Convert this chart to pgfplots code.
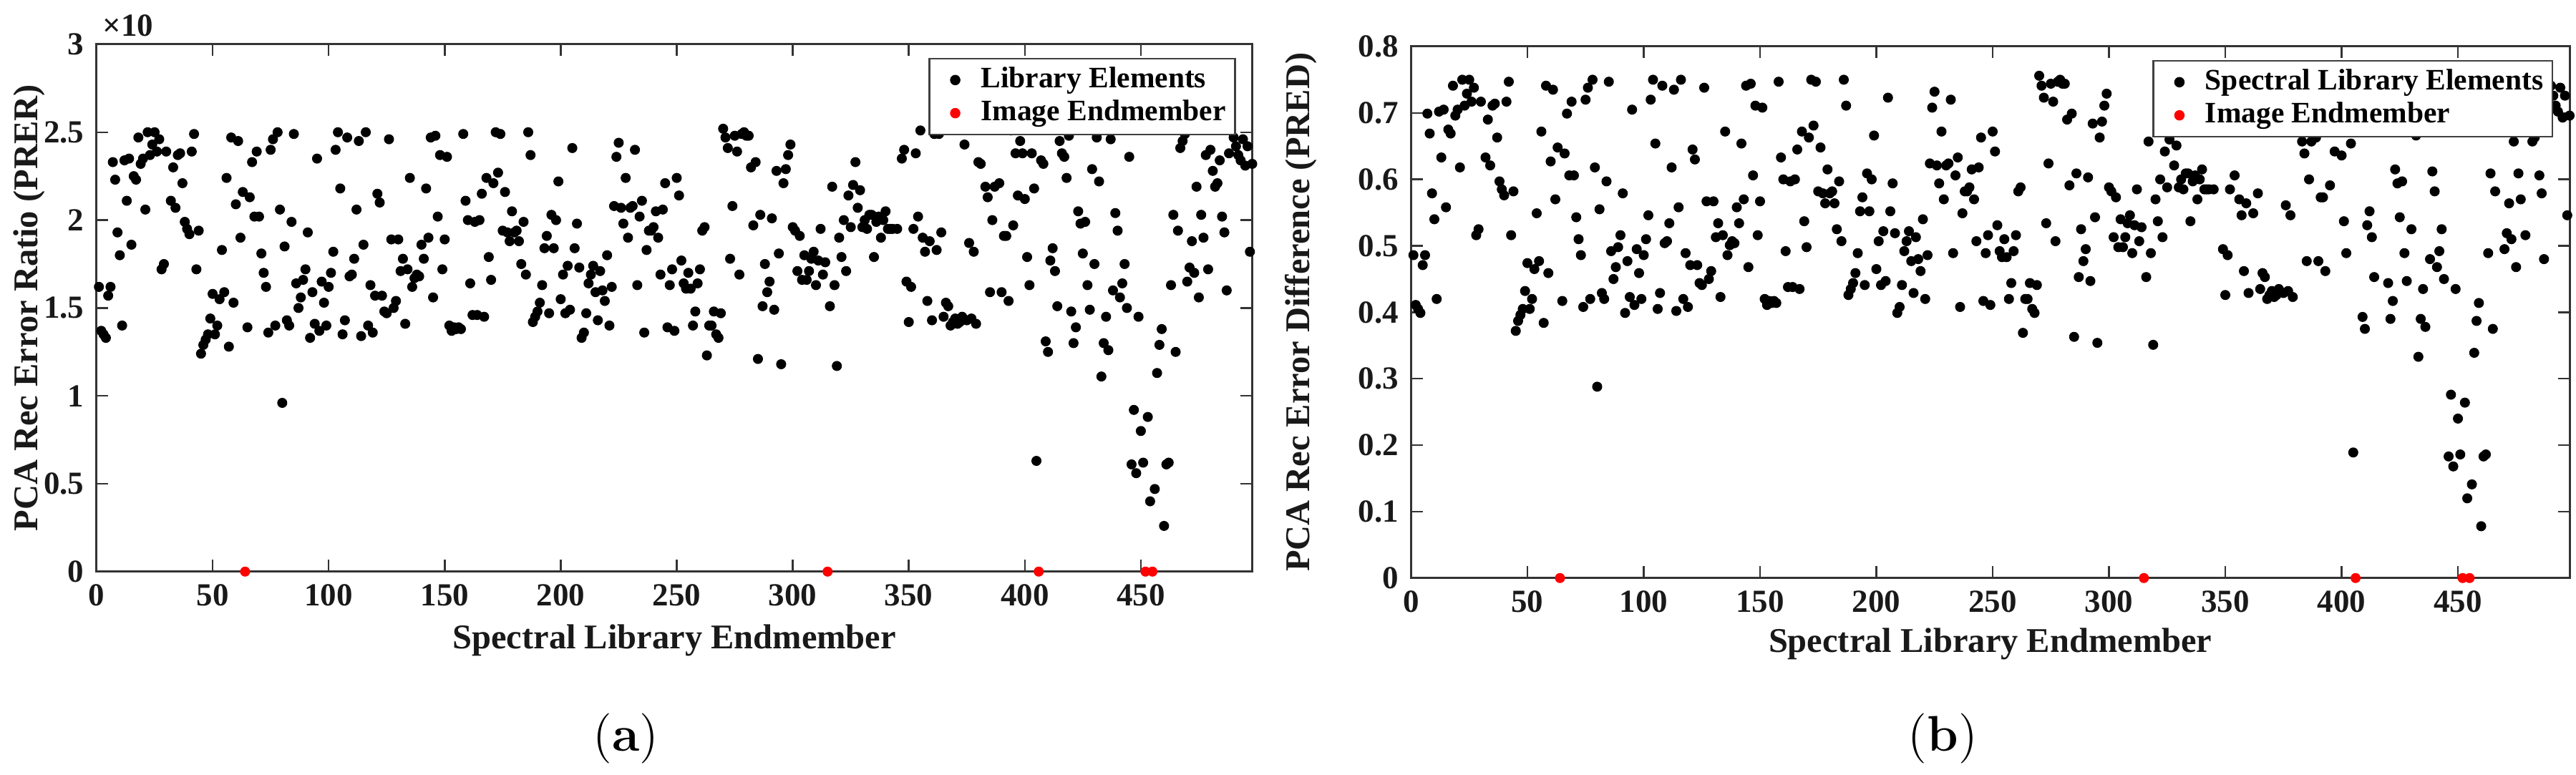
\documentclass[border=0pt]{standalone}
\usepackage{fontspec}
\setmainfont{Liberation Serif}
\newfontfamily\lmfont{Latin Modern Roman}
\usepackage{pgfplots}
\usepackage{pgfplotstable}
\pgfplotsset{compat=1.18}

\pgfplotstableread{
x a b
1 1.62 0.486
2 1.37 0.411
3 1.35 0.405
4 1.33 0.399
5 1.57 0.471
6 1.62 0.486
7 2.33 0.699
8 2.23 0.669
9 1.93 0.579
10 1.80 0.540
11 1.40 0.420
12 2.34 0.702
13 2.11 0.633
14 2.35 0.705
15 1.86 0.558
16 2.25 0.675
17 2.23 0.669
18 2.47 0.741
19 2.32 0.696
20 2.35 0.705
21 2.06 0.618
22 2.50 0.750
23 2.37 0.711
24 2.43 0.729
25 2.50 0.750
26 2.39 0.717
27 2.46 0.738
28 1.72 0.516
29 1.75 0.525
30 2.39 0.717
32 2.11 0.633
33 2.30 0.690
34 2.07 0.621
35 2.37 0.711
36 2.38 0.714
37 2.21 0.663
38 1.99 0.597
39 1.95 0.585
40 1.92 0.576
41 2.39 0.717
42 2.49 0.747
43 1.72 0.516
44 1.94 0.582
45 1.24 0.372
46 1.29 0.387
47 1.32 0.396
48 1.35 0.405
49 1.44 0.432
50 1.58 0.474
51 1.35 0.405
52 1.40 0.420
53 1.55 0.465
54 1.83 0.549
55 1.59 0.477
56 2.24 0.672
57 1.28 0.384
58 2.47 0.741
59 1.53 0.459
60 2.09 0.627
61 2.45 0.735
62 1.90 0.570
63 2.16 0.648
65 1.39 0.417
66 2.13 0.639
67 2.33 0.699
68 2.02 0.606
69 2.39 0.717
70 2.02 0.606
71 1.81 0.543
72 1.70 0.510
73 1.62 0.486
74 1.36 0.408
75 2.40 0.720
76 2.46 0.738
77 1.40 0.420
78 2.50 0.750
79 2.06 0.618
80 0.96 0.288
81 1.85 0.555
82 1.43 0.429
83 1.40 0.420
84 1.99 0.597
85 2.49 0.747
86 1.64 0.492
87 1.50 0.450
88 1.56 0.468
89 1.66 0.498
90 1.72 0.516
91 1.93 0.579
92 1.33 0.399
93 1.59 0.477
94 1.41 0.423
95 2.35 0.705
96 1.37 0.411
97 1.65 0.495
98 1.53 0.459
99 1.40 0.420
100 1.62 0.486
101 1.70 0.510
102 1.82 0.546
103 2.40 0.720
104 2.50 0.750
105 2.18 0.654
106 1.35 0.405
107 1.43 0.429
108 2.47 0.741
109 1.68 0.504
110 1.69 0.507
111 1.78 0.534
112 2.06 0.618
113 2.45 0.735
114 1.34 0.402
115 1.86 0.558
116 2.50 0.750
117 1.40 0.420
118 1.63 0.489
119 1.36 0.408
120 1.57 0.471
121 2.15 0.645
122 2.10 0.630
123 1.57 0.471
124 1.48 0.444
125 1.47 0.441
126 2.46 0.738
127 1.89 0.567
128 1.50 0.450
129 1.54 0.462
130 1.89 0.567
131 1.71 0.513
132 1.78 0.534
133 1.41 0.423
134 1.72 0.516
135 2.24 0.672
136 1.62 0.486
137 1.67 0.501
138 1.69 0.507
139 1.68 0.504
140 1.86 0.558
141 1.78 0.534
142 2.18 0.654
143 1.90 0.570
144 2.47 0.741
145 1.56 0.468
146 2.48 0.744
147 2.02 0.606
148 2.37 0.711
149 1.72 0.516
150 1.89 0.567
151 2.36 0.708
152 1.40 0.420
153 1.37 0.411
154 1.39 0.417
155 1.38 0.414
156 1.39 0.417
157 1.38 0.414
158 2.49 0.747
159 2.11 0.633
160 2.00 0.600
161 1.64 0.492
162 1.46 0.438
163 1.99 0.597
164 1.46 0.438
165 2.00 0.600
166 2.15 0.645
167 1.45 0.435
168 2.24 0.672
169 1.79 0.537
170 1.66 0.498
171 2.21 0.663
172 2.50 0.750
173 2.27 0.681
174 2.49 0.747
175 1.94 0.582
176 2.16 0.648
177 1.93 0.579
178 1.88 0.564
179 2.05 0.615
180 1.93 0.579
181 1.94 0.582
182 1.88 0.564
183 1.75 0.525
184 1.99 0.597
185 1.69 0.507
186 2.50 0.750
187 2.37 0.711
188 1.42 0.426
189 1.45 0.435
190 1.48 0.444
191 1.53 0.459
192 1.63 0.489
193 1.84 0.552
194 1.91 0.573
195 1.47 0.441
196 2.03 0.609
197 1.84 0.552
198 2.00 0.600
199 2.22 0.666
200 1.55 0.465
201 1.69 0.507
202 1.47 0.441
203 1.74 0.522
204 1.49 0.447
205 2.41 0.723
206 1.84 0.552
207 1.98 0.594
208 1.73 0.519
209 1.33 0.399
210 1.36 0.408
211 1.47 0.441
212 1.64 0.492
213 1.69 0.507
214 1.74 0.522
215 1.59 0.477
216 1.43 0.429
217 1.71 0.513
218 1.60 0.480
219 1.54 0.462
220 1.80 0.540
221 1.40 0.420
222 1.62 0.486
223 2.08 0.624
224 2.36 0.708
225 2.44 0.732
226 2.07 0.621
227 1.98 0.594
228 2.24 0.672
229 1.90 0.570
230 2.07 0.621
231 2.08 0.624
232 2.40 0.720
233 1.63 0.489
234 2.02 0.606
235 2.11 0.633
236 1.36 0.408
237 1.83 0.549
238 1.94 0.582
239 1.94 0.582
240 1.96 0.588
241 2.05 0.615
242 1.90 0.570
243 1.69 0.507
244 2.06 0.618
245 2.21 0.663
246 1.39 0.417
247 1.63 0.489
248 1.72 0.516
249 1.37 0.411
250 2.24 0.672
251 2.14 0.642
252 1.77 0.531
253 1.64 0.492
254 1.61 0.483
255 1.70 0.510
256 1.61 0.483
257 1.40 0.420
258 1.48 0.444
259 1.64 0.492
260 1.72 0.516
261 1.94 0.582
262 1.96 0.588
263 1.23 0.369
264 1.40 0.420
265 1.40 0.420
266 1.48 0.444
267 1.35 0.405
268 1.33 0.399
269 1.47 0.441
270 2.52 0.756
271 2.47 0.741
272 2.41 0.723
273 1.78 0.534
274 2.08 0.624
275 2.48 0.744
276 2.39 0.717
277 1.69 0.507
278 2.49 0.747
279 2.50 0.750
280 2.48 0.744
281 2.48 0.744
282 2.30 0.690
283 1.97 0.591
284 2.33 0.699
285 1.21 0.363
286 2.03 0.609
287 1.51 0.453
288 1.75 0.525
289 1.59 0.477
290 1.65 0.495
291 2.01 0.603
292 1.49 0.447
293 2.28 0.684
294 1.81 0.543
295 1.18 0.354
296 2.21 0.663
297 2.29 0.687
298 2.37 0.711
299 2.43 0.729
300 1.96 0.588
301 1.94 0.582
302 1.71 0.513
303 1.91 0.573
304 1.66 0.498
305 1.80 0.540
306 1.66 0.498
307 1.71 0.513
308 1.78 0.534
309 1.82 0.546
310 1.63 0.489
311 1.77 0.531
312 1.95 0.585
313 1.69 0.507
314 1.76 0.528
316 1.51 0.453
317 2.19 0.657
318 1.63 0.489
319 1.17 0.351
320 1.90 0.570
321 1.79 0.537
322 2.00 0.600
323 1.71 0.513
324 2.14 0.642
325 1.96 0.588
326 2.20 0.660
327 2.33 0.699
328 2.07 0.621
329 2.17 0.651
330 1.96 0.588
331 2.00 0.600
332 1.95 0.585
333 2.03 0.609
334 2.03 0.609
335 1.79 0.537
336 1.99 0.597
337 2.02 0.606
338 1.90 0.570
339 2.00 0.600
340 2.05 0.615
341 1.95 0.585
342 1.95 0.585
343 1.95 0.585
345 1.95 0.585
347 2.35 0.705
348 2.40 0.720
349 1.65 0.495
350 1.42 0.426
351 1.62 0.486
352 1.95 0.585
353 2.38 0.714
354 2.02 0.606
355 2.51 0.753
356 1.90 0.570
357 1.82 0.546
358 1.54 0.462
359 1.88 0.564
360 1.43 0.429
361 2.49 0.747
362 1.83 0.549
363 2.49 0.747
364 1.93 0.579
365 1.45 0.435
366 1.53 0.459
367 1.51 0.453
368 1.40 0.420
369 1.42 0.426
370 1.44 0.432
371 1.41 0.423
372 1.42 0.426
373 1.45 0.435
374 2.43 0.729
375 1.43 0.429
376 1.87 0.561
377 1.44 0.432
378 1.82 0.546
379 1.41 0.423
380 2.33 0.699
381 2.32 0.696
383 2.19 0.657
384 2.13 0.639
385 1.59 0.477
386 2.00 0.600
387 2.19 0.657
389 2.21 0.663
390 1.59 0.477
391 1.91 0.573
392 1.91 0.573
393 1.54 0.462
394 2.51 0.753
395 1.97 0.591
396 2.38 0.714
397 2.14 0.642
398 2.45 0.735
399 2.38 0.714
400 2.12 0.636
401 1.79 0.537
402 1.63 0.489
403 2.38 0.714
404 2.18 0.654
405 0.63 0.189
407 2.34 0.702
408 2.32 0.696
409 1.31 0.393
410 1.25 0.375
411 1.77 0.531
412 1.84 0.552
413 1.71 0.513
414 1.51 0.453
415 2.45 0.735
416 2.38 0.714
417 2.36 0.708
418 2.24 0.672
419 2.48 0.744
420 1.48 0.444
421 1.30 0.390
422 1.39 0.417
423 2.05 0.615
424 1.98 0.594
425 1.81 0.543
426 1.99 0.597
427 1.63 0.489
428 1.49 0.447
429 2.29 0.687
430 1.75 0.525
431 2.47 0.741
432 2.22 0.666
433 1.11 0.333
434 1.30 0.390
435 1.45 0.435
436 1.26 0.378
437 2.46 0.738
438 1.60 0.480
439 2.04 0.612
440 1.94 0.582
441 1.56 0.468
442 1.64 0.492
443 1.75 0.525
444 1.50 0.450
445 2.36 0.708
446 0.61 0.183
447 0.92 0.276
448 0.56 0.168
449 1.45 0.435
450 0.80 0.240
451 0.62 0.186
453 0.88 0.264
454 0.40 0.120
456 0.47 0.141
457 1.13 0.339
458 1.29 0.387
459 1.38 0.414
460 0.26 0.078
461 0.61 0.183
462 0.62 0.186
463 1.63 0.489
464 2.03 0.609
465 1.25 0.375
466 1.94 0.582
467 2.41 0.723
468 2.45 0.735
469 2.49 0.747
470 1.65 0.495
471 1.73 0.519
472 1.88 0.564
473 1.70 0.510
474 2.19 0.657
475 1.56 0.468
476 2.03 0.609
477 1.90 0.570
478 2.37 0.711
479 1.72 0.516
480 2.40 0.720
481 2.28 0.684
482 2.19 0.657
483 2.21 0.663
484 2.34 0.702
485 2.02 0.606
486 1.93 0.579
487 1.60 0.480
488 2.38 0.714
490 2.47 0.741
491 2.42 0.726
492 2.37 0.711
493 2.34 0.702
494 2.46 0.738
495 2.31 0.693
496 2.42 0.726
497 1.82 0.546
498 2.32 0.696
}\libdata

\pgfplotstableread{
x y
64 0
315 0
406 0
452 0
455 0
}\imgdata

\pgfplotsset{
  panel/.style={
    scale only axis,
    xmin=0, xmax=498,
    xtick={0,50,...,450},
    enlargelimits=false,
    scaled ticks=false,
    tick align=inside,
    tick pos=both,
    major tick length=3.3pt,
    minor tick num=0,
    axis line style={line width=0.6pt, black!80},
    every tick/.style={black!80, line width=0.5pt},
    clip=false,
    ticklabel style={font=\bfseries\fontsize{9}{10}\selectfont, text=black!90},
    /pgf/number format/assume math mode=true,
    label style={font=\bfseries\fontsize{9.7}{11}\selectfont, text=black!90},
    legend style={font=\bfseries\fontsize{8.3}{9.5}\selectfont,
      at={(1,1)}, anchor=north east, xshift=-4.6pt, yshift=-3.8pt,
      draw=black!75, line width=0.5pt, inner xsep=1pt, inner ysep=0.8pt,
      row sep=-1pt, nodes={inner sep=1.5pt}},
    legend cell align=left,
  },
  libmark/.style={only marks, mark=*, mark size=1.2pt, color=black, mark options={draw=black, fill=black},
    legend image code/.code={\path[draw=none, fill=none] (0cm,0cm) rectangle (0.42cm,0cm); \draw[##1] plot[only marks] coordinates {(0.22cm,0cm)};}},
  imgmark/.style={only marks, mark=*, mark size=1.2pt, color=red, mark options={draw=red, fill=red},
    legend image code/.code={\path[draw=none, fill=none] (0cm,0cm) rectangle (0.42cm,0cm); \draw[##1] plot[only marks] coordinates {(0.22cm,0cm)};}},
}

\begin{document}
\begin{tikzpicture}
\useasboundingbox (0,0) rectangle (720pt,216.6pt);

% (a)
\begin{axis}[panel,
  at={(27pt,56.8pt)}, anchor=south west,
  width=323pt, height=147.4pt,
  ymin=0, ymax=3,
  ytick={0,0.5,1,1.5,2,2.5,3},
  yticklabels={0,0.5,1,1.5,2,2.5,3},
  xlabel={Spectral Library Endmember},
  ylabel={PCA Rec Error Ratio (PRER)},
  xlabel style={at={(axis description cs:0.5,-0.130)}, anchor=center},
  ylabel style={at={(axis description cs:-0.058,0.5)}, anchor=center},
]
\addplot[libmark] table[x=x, y=a] {\libdata};
\addlegendentry{Library Elements}
\addplot[imgmark] table[x=x, y=y] {\imgdata};
\addlegendentry{Image Endmember}
\node[anchor=south west, inner sep=0pt, font=\bfseries\fontsize{9}{10}\selectfont, text=black!90]
  at (rel axis cs:0,1) [xshift=1.5pt, yshift=2pt] {×10};
\end{axis}

% (b)
\begin{axis}[panel,
  at={(394.4pt,55pt)}, anchor=south west,
  width=323.8pt, height=148.6pt,
  ymin=0, ymax=0.8,
  ytick={0,0.1,0.2,0.3,0.4,0.5,0.6,0.7,0.8},
  yticklabels={0,0.1,0.2,0.3,0.4,0.5,0.6,0.7,0.8},
  xlabel={Spectral Library Endmember},
  ylabel={PCA Rec Error Difference (PRED)},
  xlabel style={at={(axis description cs:0.5,-0.124)}, anchor=center},
  ylabel style={at={(axis description cs:-0.0951,0.5)}, anchor=center},
]
\addplot[libmark] table[x=x, y=b] {\libdata};
\addlegendentry{Spectral Library Elements}
\addplot[imgmark] table[x=x, y=y] {\imgdata};
\addlegendentry{Image Endmember}
\end{axis}

\node[font=\lmfont\fontsize{14}{16}\selectfont] at (175pt,10.1pt) {(\textbf{a})};
\node[font=\lmfont\fontsize{14}{16}\selectfont] at (543pt,10.1pt) {(\textbf{b})};
\end{tikzpicture}
\end{document}
